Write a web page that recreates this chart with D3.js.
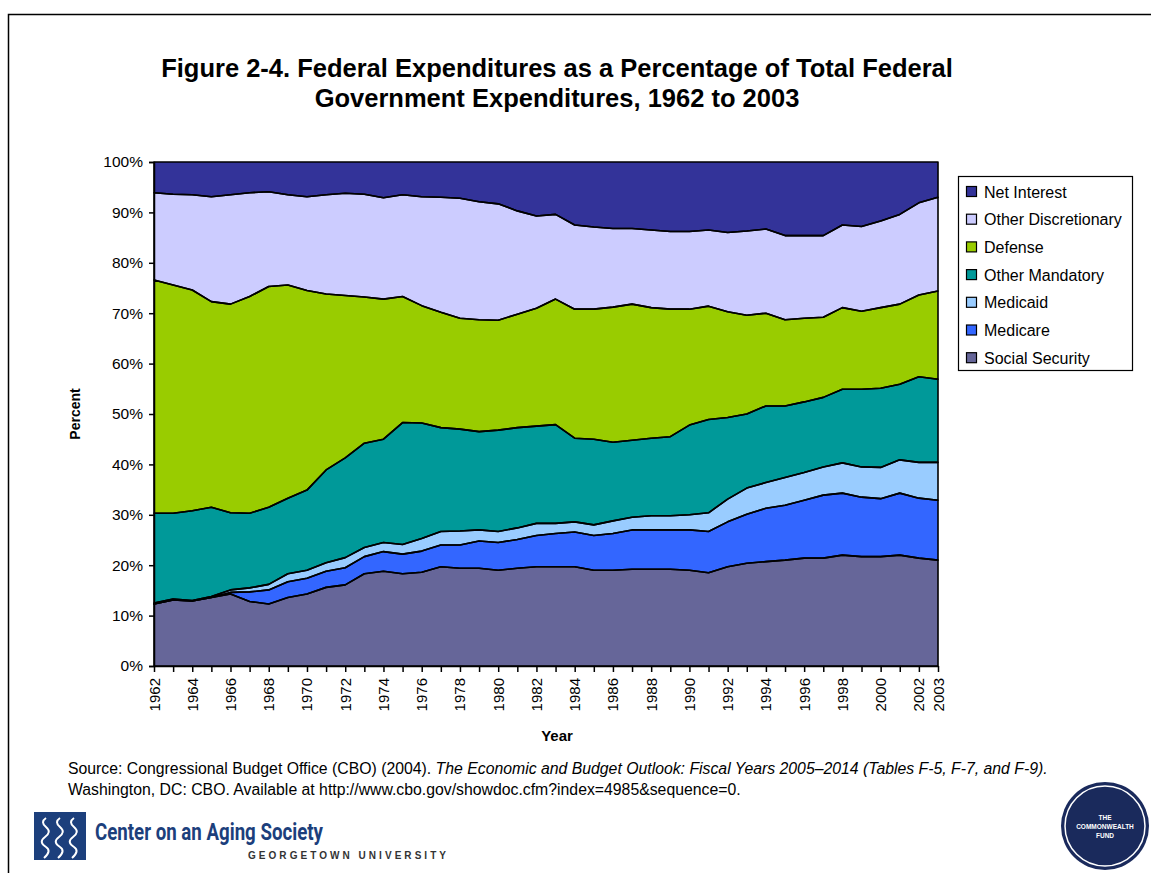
<!DOCTYPE html>
<html>
<head>
<meta charset="utf-8">
<script src="https://cdn.jsdelivr.net/npm/d3@7/dist/d3.min.js"></script>
<style>
  html, body { margin: 0; padding: 0; background: #fff; }
  svg { display: block; font-family: "Liberation Sans", Arial, sans-serif; }
</style>
</head>
<body>
<svg id="chart" width="1151" height="873"></svg>
<script>
// Shares of total federal outlays (percent), fiscal years 1962-2003
const years = d3.range(1962, 2004);

const socialSecurity = [12.3,13.1,12.9,13.6,14.3,12.8,12.3,13.6,14.3,15.6,16.1,18.3,18.8,18.3,18.6,19.7,19.4,19.4,19.0,19.4,19.7,19.7,19.7,19.0,19.0,19.2,19.2,19.2,19.0,18.5,19.7,20.4,20.7,21.0,21.4,21.4,22.0,21.7,21.7,22.0,21.4,21.0];
const medicare = [0,0,0,0,0.3,1.9,2.8,3.1,3.1,3.2,3.4,3.4,3.9,3.9,4.2,4.3,4.6,5.4,5.5,5.7,6.2,6.6,6.9,6.9,7.3,7.8,7.8,7.8,8.0,8.2,8.9,9.7,10.6,10.9,11.5,12.5,12.3,11.8,11.5,12.3,11.9,11.9];
const medicaid = [0.2,0.2,0.1,0.2,0.5,0.8,1.1,1.6,1.6,1.7,2.0,1.8,1.8,1.9,2.5,2.7,2.8,2.2,2.2,2.3,2.4,2.0,2.0,2.1,2.5,2.5,2.8,2.8,3.0,3.7,4.5,5.2,5.1,5.5,5.5,5.6,6.0,6.0,6.2,6.6,7.1,7.5];
const otherMandatory = [17.8,17.0,17.8,17.7,15.3,14.8,15.3,15.0,15.9,18.4,19.8,20.7,20.5,24.2,22.9,20.6,20.2,19.5,20.1,19.9,19.3,19.6,16.6,17.0,15.6,15.3,15.4,15.7,17.8,18.5,16.2,14.7,15.2,14.2,14.0,13.8,14.6,15.4,15.7,15.0,17.0,16.5];
const defense = [46.3,45.3,43.8,40.8,41.4,43.0,43.8,42.3,39.6,34.9,32.2,29.0,27.8,25.0,23.3,22.9,22.0,22.2,21.8,22.5,23.4,24.9,25.6,25.8,26.8,27.0,25.9,25.3,23.0,22.5,21.0,19.6,18.4,17.1,16.6,15.9,16.2,15.5,16.0,15.9,16.2,17.5];
const otherDiscretionary = [17.3,18.0,18.9,20.8,21.7,20.6,18.8,17.9,18.6,19.7,20.3,20.4,20.1,20.2,21.6,22.8,23.8,23.4,23.1,20.5,18.3,16.8,16.7,16.3,15.6,15.0,15.4,15.4,15.4,15.1,15.7,16.7,16.7,16.7,16.4,16.2,16.4,16.8,17.2,17.8,18.3,18.6];
const netInterest = [6.1,6.4,6.5,6.9,6.5,6.1,5.9,6.5,6.9,6.5,6.2,6.4,7.1,6.5,6.9,7.0,7.2,7.9,8.3,9.7,10.7,10.4,12.5,12.9,13.2,13.2,13.5,13.8,13.8,13.5,14.0,13.7,13.3,14.6,14.6,14.6,12.5,12.8,11.7,10.4,8.1,7.0];

// Stack order, bottom to top
const seriesNames = ["Social Security","Medicare","Medicaid","Other Mandatory","Defense","Other Discretionary","Net Interest"];
const seriesValues = [socialSecurity, medicare, medicaid, otherMandatory, defense, otherDiscretionary, netInterest];
const seriesColors = ["#666699","#3366FF","#99CCFF","#009999","#99CC00","#CCCCFF","#333399"];

const yTicks = [0,10,20,30,40,50,60,70,80,90,100];
const xLabelYears = d3.range(1962, 2003, 2).concat([2003]);

const titleLines = ["Figure 2-4. Federal Expenditures as a Percentage of Total Federal",
                    "Government Expenditures, 1962 to 2003"];

// Build rows for d3.stack
const rows = years.map((yr, i) => {
  const r = { year: yr };
  seriesNames.forEach((n, k) => r[n] = seriesValues[k][i]);
  return r;
});

const svg = d3.select("#chart");

// Outer frame
svg.append("path")
  .attr("d", "M8.5,880 L8.5,14.5 L1160,14.5")
  .attr("fill", "none").attr("stroke", "#000").attr("stroke-width", 1.5);

// Title
svg.append("g").selectAll("text").data(titleLines).join("text")
  .attr("x", 557).attr("y", (d, i) => 77 + i * 30)
  .attr("text-anchor", "middle")
  .attr("font-size", 25.5).attr("font-weight", "bold")
  .text(d => d);

const plot = { left: 154, right: 938, top: 162, bottom: 666 };
const x = d3.scaleLinear().domain([1962, 2003]).range([plot.left, plot.right]);
const y = d3.scaleLinear().domain([0, 100]).range([plot.bottom, plot.top]);

const stacked = d3.stack().keys(seriesNames)(rows);

const area = d3.area()
  .x(d => x(d.data.year))
  .y0(d => y(d[0]))
  .y1(d => y(d[1]));

const g = svg.append("g");
g.selectAll("path.layer").data(stacked).join("path")
  .attr("class", "layer")
  .attr("d", area)
  .attr("fill", (d, i) => seriesColors[i]);

// Black outlines of each band
g.selectAll("path.edge").data(stacked).join("path")
  .attr("class", "edge")
  .attr("d", area)
  .attr("fill", "none")
  .attr("stroke", "#000")
  .attr("stroke-width", 1.6)
  .attr("stroke-linejoin", "round");

// Y axis
const yAxis = d3.axisLeft(y).tickValues(yTicks).tickFormat(d => d + "%").tickSize(5).tickPadding(6);
const yg = svg.append("g").attr("transform", `translate(${plot.left},0)`).call(yAxis);
yg.select(".domain").attr("stroke-width", 1.5);
yg.selectAll(".tick line").attr("stroke-width", 1.5);
yg.selectAll("text").attr("font-size", 15.5).attr("font-family", "Liberation Sans, Arial, sans-serif").attr("fill", "#000");

// X axis: a tick for every year, labels every second year plus the final year
const xAxis = d3.axisBottom(x).tickValues(years).tickFormat("").tickSize(6).tickSizeOuter(0);
const xg = svg.append("g").attr("transform", `translate(0,${plot.bottom})`).call(xAxis);
xg.select(".domain").attr("stroke-width", 1.5);
xg.selectAll(".tick line").attr("stroke-width", 1.5);

svg.append("g").selectAll("text").data(xLabelYears).join("text")
  .attr("transform", d => `translate(${x(d) + 5.5},678) rotate(-90)`)
  .attr("text-anchor", "end")
  .attr("font-size", 15)
  .text(d => d);

// Axis titles
svg.append("text")
  .attr("transform", "translate(80,414) rotate(-90)")
  .attr("text-anchor", "middle")
  .attr("font-size", 14).attr("font-weight", "bold")
  .text("Percent");
svg.append("text")
  .attr("x", 557).attr("y", 741)
  .attr("text-anchor", "middle")
  .attr("font-size", 15).attr("font-weight", "bold")
  .text("Year");

// Legend (top to bottom mirrors the stack)
const legendItems = seriesNames.map((n, i) => ({ name: n, color: seriesColors[i] })).reverse();
const lg = svg.append("g");
lg.append("rect")
  .attr("x", 958.5).attr("y", 176.5).attr("width", 174).attr("height", 194)
  .attr("fill", "#fff").attr("stroke", "#000").attr("stroke-width", 1.2);
const li = lg.selectAll("g.item").data(legendItems).join("g")
  .attr("class", "item")
  .attr("transform", (d, i) => `translate(0,${192 + i * 27.7})`);
li.append("rect")
  .attr("x", 966.5).attr("y", -5.5).attr("width", 10).attr("height", 10)
  .attr("fill", d => d.color).attr("stroke", "#000").attr("stroke-width", 1.2);
li.append("text")
  .attr("x", 984).attr("y", 5.5)
  .attr("font-size", 16)
  .text(d => d.name);

// Source note
const src = svg.append("g").attr("font-size", 15.8);
const s1 = src.append("text").attr("x", 68).attr("y", 774);
s1.append("tspan").text("Source: Congressional Budget Office (CBO) (2004). ");
s1.append("tspan").attr("font-style", "italic")
  .text("The Economic and Budget Outlook: Fiscal Years 2005\u20132014 (Tables F-5, F-7, and F-9).");
src.append("text").attr("x", 68).attr("y", 795)
  .text("Washington, DC: CBO. Available at http://www.cbo.gov/showdoc.cfm?index=4985&sequence=0.");

// Center on an Aging Society mark
const navy = "#1c3f7c";
const logo = svg.append("g");
logo.append("rect").attr("x", 34).attr("y", 812).attr("width", 52).attr("height", 48).attr("fill", navy);
[0, 1, 2].forEach(k => {
  const ox = 40 + k * 14;
  logo.append("path")
    .attr("d", `M${ox + 6},818 q-6,4 0,9 q6,5 -1,10 q-7,5 1,10 q6,4 -2,11`)
    .attr("fill", "none").attr("stroke", "#fff").attr("stroke-width", 2);
});
logo.append("text")
  .attr("x", 95).attr("y", 840)
  .attr("font-family", "'Liberation Sans Narrow', 'Roboto', sans-serif")
  .attr("font-size", 24).attr("font-weight", "bold").attr("fill", navy)
  .attr("textLength", 228).attr("lengthAdjust", "spacingAndGlyphs")
  .text("Center on an Aging Society");
logo.append("text")
  .attr("x", 248).attr("y", 859)
  .attr("font-size", 10).attr("font-weight", "bold").attr("fill", "#333")
  .attr("textLength", 198).attr("lengthAdjust", "spacing")
  .text("GEORGETOWN UNIVERSITY");

// Commonwealth Fund seal
const seal = svg.append("g").attr("transform", "translate(1105,826)");
seal.append("circle").attr("r", 44).attr("fill", "#1a2a5c");
seal.append("circle").attr("r", 40).attr("fill", "none").attr("stroke", "#fff").attr("stroke-width", 1.5);
seal.append("g").selectAll("text").data(["THE", "COMMONWEALTH", "FUND"]).join("text")
  .attr("y", (d, i) => -6 + i * 9)
  .attr("text-anchor", "middle")
  .attr("font-size", 6.5).attr("font-weight", "bold").attr("fill", "#fff")
  .text(d => d);
</script>
</body>
</html>
